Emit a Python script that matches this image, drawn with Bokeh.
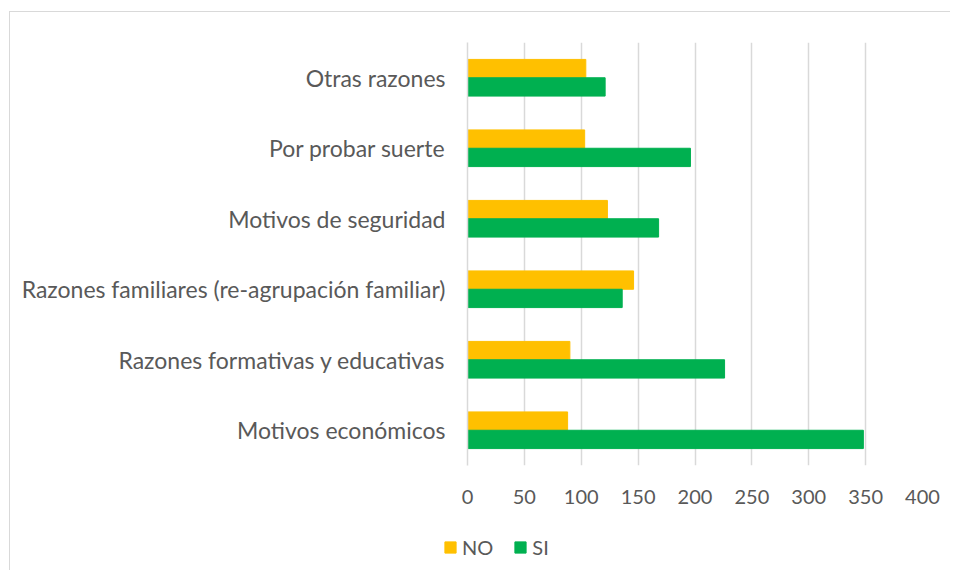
from bokeh.plotting import figure
from bokeh.layouts import column
from bokeh.models import FixedTicker, Range1d, FactorRange, Legend, LegendItem, ColumnDataSource
from bokeh.transform import dodge
from bokeh.embed import file_html
from bokeh.resources import INLINE

categories = [
    "Motivos económicos",
    "Razones formativas y educativas",
    "Razones familiares (re-agrupación familiar)",
    "Motivos de seguridad",
    "Por probar suerte",
    "Otras razones",
]
no_values = [88, 90, 146, 123, 103, 104]
si_values = [348, 226, 136, 168, 196, 121]
x_ticks = [0, 50, 100, 150, 200, 250, 300, 350, 400]

FONT = "Lato"
TEXT = "#595959"
GRID = "#D9D9D9"
NO_COLOR = "#FFC000"
SI_COLOR = "#00B050"

source = ColumnDataSource(dict(cat=categories, no=no_values, si=si_values))

p = figure(
    width=940, height=518,
    y_range=FactorRange(*categories),
    x_range=Range1d(0, 400),
    output_backend="svg", toolbar_location=None,
    min_border_left=457, min_border_right=28,
    min_border_top=30, min_border_bottom=65,
)
p.outline_line_color = None

p.hbar(y=dodge("cat", 0.13, range=p.y_range), right="no", left=0, height=0.26,
       color=NO_COLOR, source=source)
p.hbar(y=dodge("cat", -0.13, range=p.y_range), right="si", left=0, height=0.26,
       color=SI_COLOR, source=source)

p.xaxis.ticker = FixedTicker(ticks=x_ticks)
p.xaxis.axis_line_color = None
p.xaxis.major_tick_line_color = None
p.xaxis.minor_tick_line_color = None
p.xaxis.major_label_text_font = FONT
p.xaxis.major_label_text_font_size = "20px"
p.xaxis.major_label_text_color = TEXT
p.xaxis.major_label_standoff = 18

p.yaxis.axis_line_color = GRID
p.yaxis.axis_line_width = 1.5
p.yaxis.major_tick_line_color = None
p.yaxis.minor_tick_line_color = None
p.yaxis.major_label_text_font = FONT
p.yaxis.major_label_text_font_size = "23px"
p.yaxis.major_label_text_color = TEXT
p.yaxis.major_label_standoff = 16

p.xgrid.ticker = FixedTicker(ticks=x_ticks)
p.xgrid.grid_line_color = GRID
p.xgrid.grid_line_width = 1.5
p.ygrid.grid_line_color = None

# Legend strip below the chart
lg = figure(
    width=940, height=40,
    y_range=FactorRange(*categories),
    x_range=Range1d(0, 400),
    output_backend="svg", toolbar_location=None,
    min_border_left=0, min_border_right=0, min_border_top=0, min_border_bottom=0,
)
for fig in (p, lg):
    if "frame_align" in fig.properties():
        fig.frame_align = False
lg.outline_line_color = None
lg.axis.visible = False
lg.grid.visible = False
l_no = lg.hbar(y="cat", right="no", left=0, height=0.26, color=NO_COLOR, source=source, visible=False)
l_si = lg.hbar(y="cat", right="si", left=0, height=0.26, color=SI_COLOR, source=source, visible=False)

legend = Legend(
    items=[LegendItem(label="NO", renderers=[l_no]), LegendItem(label="SI", renderers=[l_si])],
    orientation="horizontal", location=(433, 11),
    glyph_width=14, glyph_height=14, label_standoff=5, spacing=20,
    padding=0, margin=0, border_line_alpha=0, background_fill_alpha=0,
    label_text_font=FONT, label_text_font_size="20px", label_text_color=TEXT,
    label_height=20,
)
lg.add_layout(legend, "center")

layout = column(p, lg, spacing=0)
layout.styles = {"border-top": "1px solid #D9D9D9", "border-left": "1px solid #D9D9D9",
                 "margin-top": "11px", "margin-left": "9px"}

open("out.html", "w").write(file_html(layout, INLINE))
